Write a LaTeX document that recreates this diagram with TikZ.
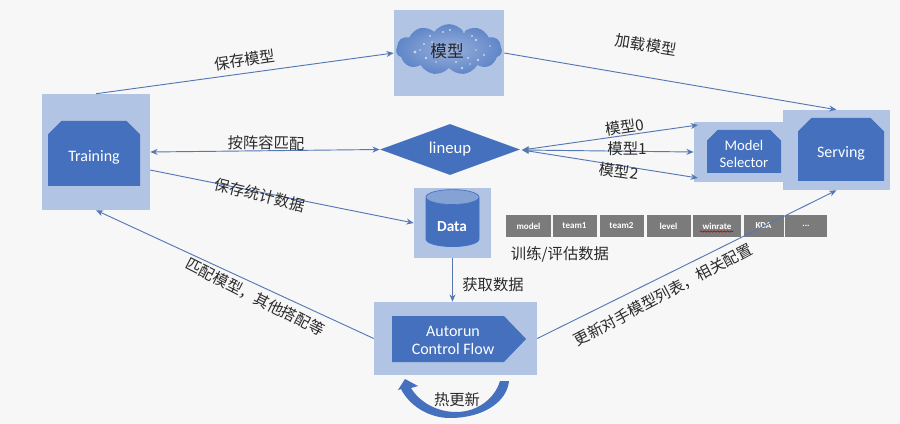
\documentclass[tikz,border=0pt]{standalone}
\usepackage{fontspec}
\setmainfont{Carlito}
\newfontfamily\cjk{Noto Sans CJK SC}
\usetikzlibrary{arrows.meta,shapes.geometric,shapes.misc,shapes.symbols,decorations.pathmorphing}
\definecolor{panelblue}{HTML}{B1C4E3}
\definecolor{coreblue}{HTML}{4470BE}
\definecolor{linkblue}{HTML}{5578B4}
\definecolor{cellgray}{HTML}{7B7B7B}
\definecolor{inkgray}{HTML}{2A2A2A}
\tikzset{
  panel/.style={fill=panelblue,draw=none,inner sep=0pt},
  corebox/.style={chamfered rectangle,chamfered rectangle corners={north west,north east},
    chamfered rectangle xsep=5pt,chamfered rectangle ysep=5pt,fill=coreblue,draw=none,inner sep=0pt,font=\fontsize{12}{13.5}\selectfont},
  coretext/.style={text=white,align=center,inner sep=0pt,font=\fontsize{12}{13.5}\selectfont},
  link/.style={draw=linkblue,line width=0.7pt,-{Stealth[length=5.5pt,width=4.5pt]}},
  twolink/.style={draw=linkblue,line width=0.7pt,{Stealth[length=5.5pt,width=4.5pt]}-{Stealth[length=5.5pt,width=4.5pt]}},
  lbl/.style={font=\cjk\fontsize{11.5}{13}\selectfont,text=inkgray,inner sep=0pt},
  cell/.style={fill=cellgray,draw=none,inner sep=0pt,text=white,font=\bfseries\fontsize{6.8}{8}\selectfont,minimum height=16pt},
  spark/.style={fill=white,draw=none,opacity=0.6}
}
\begin{document}
\begin{tikzpicture}[x=0.75pt,y=-0.75pt]
\useasboundingbox (0,0) rectangle (900,424);
\fill[white!97!black] (0,0) rectangle (900,424);

% panels
\node[panel,minimum width=81pt,minimum height=87pt] (training) at (96,152) {};
\node[panel,minimum width=82.5pt,minimum height=64.5pt] (model) at (449,53) {};
\node[panel,minimum width=66.75pt,minimum height=45pt] (selector) at (738.5,152) {};
\node[panel,minimum width=80.25pt,minimum height=60pt] (serving) at (836.5,150) {};
\node[panel,minimum width=57.75pt,minimum height=52.5pt] (data) at (452.5,223) {};
\node[panel,minimum width=122.25pt,minimum height=54.75pt] (autorun) at (455.5,338.5) {};

% cores
\node[corebox,minimum width=69pt,minimum height=48.75pt] (trainingcore) at (94,153.5) {\phantom{Training}};
\node[coretext] (trainingtext) at (94,157) {Training};
\node[corebox,minimum width=55.5pt,minimum height=32.25pt,chamfered rectangle xsep=4pt,chamfered rectangle ysep=4pt] (selectorcore) at (744,151.5) {\phantom{Model}};
\node[coretext,font=\fontsize{11}{12.75}\selectfont] (selectortext) at (744,154) {Model\\Selector};
\node[corebox,minimum width=64.5pt,minimum height=47.25pt] (servingcore) at (841,149.5) {\phantom{Serving}};
\node[coretext] (servingtext) at (841,153) {Serving};
\node[diamond,aspect=2.75,fill=coreblue,draw=none,inner sep=0pt,minimum width=105pt,minimum height=38.25pt,text=white,font=\fontsize{12.5}{14}\selectfont] (lineup) at (450,149.5) {lineup};
\node[cylinder,shape border rotate=90,aspect=0.5,minimum width=39.75pt,minimum height=42.75pt,inner sep=0pt,cylinder uses custom fill,cylinder body fill=coreblue,cylinder end fill=white!35!coreblue,draw=coreblue,line width=0.5pt,font=\bfseries\fontsize{11.5}{13}\selectfont] (datacore) at (452.5,222) {\phantom{Data}};
\node[coretext,font=\bfseries\fontsize{11.5}{13}\selectfont] (datatext) at (452,227) {Data};
\node[signal,signal to=east,signal pointer angle=92,fill=coreblue,draw=none,inner sep=0pt,minimum width=100.5pt,minimum height=34.5pt] (autoruncore) at (448,339) {};
\node[coretext] (autorunlabel) at (453,340) {Autorun\\Control Flow};

% cloud
\node[cloud,cloud puffs=11,cloud puff arc=110,aspect=2.2,inner sep=0pt,minimum width=79.5pt,minimum height=38pt,draw=none,inner color=white!45!coreblue,outer color=white!15!coreblue] (cloudshape) at (449,49.5) {};
\foreach \x/\y/\r in {415/52/1.2,424/44/.9,426/58/1,430/36/.9,437/48/.7,443/32/.9,450/30/.9,456/62/.8,458/44/.7,462/68/1,468/58/.8,472/36/.9,476/50/.7,478/60/1,476/40/1.1,484/55/.8,470/64/.7,436/62/.7,445/55/.7,490/46/.7,420/50/.6,432/42/.6,464/32/.7}
  \fill[spark] (\x,\y) circle (\r pt);
\node[lbl,font=\cjk\fontsize{12.5}{14}\selectfont,text=black!85] (modeltext) at (447,51) {模型};

% table
\node[cell,minimum width=33.6pt] (c1) at (528.5,226) {model};
\node[cell,minimum width=33pt] (c2) at (574.5,226) {team1};
\node[cell,minimum width=33pt] (c3) at (621.5,226) {team2};
\node[cell,minimum width=33pt] (c4) at (668.5,226) {level};
\node[cell,minimum width=36.6pt] (c5) at (717,226) {winrate};
\node[cell,minimum width=30pt] (c6) at (763.5,226) {KDA};
\node[cell,minimum width=31pt] (c7) at (806,226) {...};
\draw[red!75!black,line width=0.5pt,decorate,decoration={snake,amplitude=0.5pt,segment length=2.5pt}] (700,231.5) -- (733,231.5);

% connectors
\coordinate (trainingdata) at (150,170);
\coordinate (sel0) at (698,125);
\coordinate (sel2) at (698,178);
\coordinate (lineuptip) at (522,150);
\draw[link] (training.north) -- (model.west);
\draw[link] (model.east) -- (serving.north);
\draw[twolink] (training.east) -- (lineup.west);
\draw[link] (trainingdata) -- (data.west);
\draw[link] (autorun.west) -- (training.south);
\draw[link] (data.south) -- (data.south |- autorun.north);
\draw[link] (autorun.east) -- (serving.south);
\draw[twolink] (lineuptip) -- (sel0);
\draw[twolink] (lineuptip) -- (selector.west);
\draw[twolink] (lineuptip) -- (sel2);

% hot-update arrow
\fill[coreblue,draw=none] (509,381) .. controls (507,402) and (483,418) .. (450,418)
  .. controls (428,418) and (409,405) .. (401,389) -- (398,390) -- (405,379) -- (418,386) -- (411,388)
  .. controls (420,403) and (438,412) .. (456,412) .. controls (478,412) and (495,398) .. (500,381) -- cycle;

% labels
\node[lbl,rotate=8] (t1) at (245,60) {保存模型};
\node[lbl,rotate=-9] (t2) at (646,45) {加载模型};
\node[lbl,rotate=-1] (t3) at (266,143) {按阵容匹配};
\node[lbl,rotate=-14] (t4) at (260,195) {保存统计数据};
\node[lbl,rotate=9] (t5) at (625,127) {模型0};
\node[lbl] (t6) at (627,149) {模型1};
\node[lbl,rotate=-8] (t7) at (619,171) {模型2};
\node[lbl] (t8) at (560,254) {训练/评估数据};
\node[lbl] (t9) at (493,285) {获取数据};
\node[lbl,rotate=-27] (t10) at (255,297) {匹配模型，其他搭配等};
\node[lbl,rotate=28] (t11) at (663,295) {更新对手模型列表，相关配置};
\node[lbl] (t12) at (457,400) {热更新};
\end{tikzpicture}
\end{document}
